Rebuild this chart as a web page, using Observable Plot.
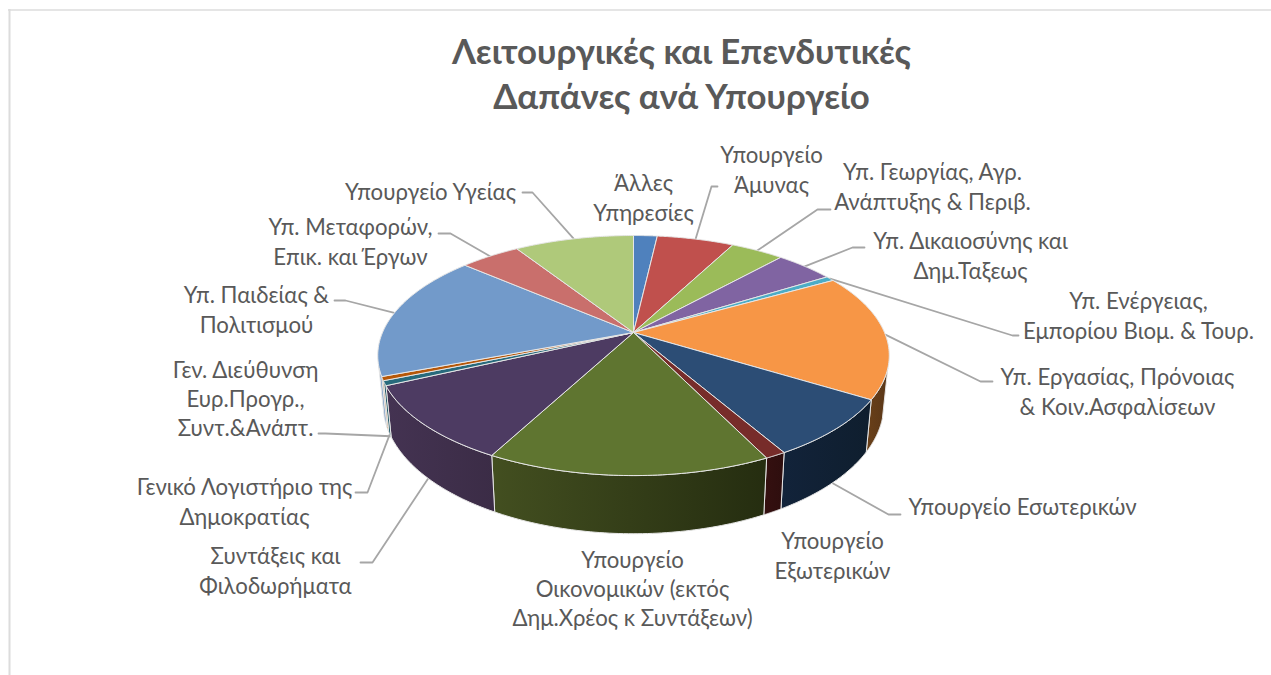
<!DOCTYPE html>
<html lang="el">
<head>
<meta charset="utf-8">
<script src="https://cdn.jsdelivr.net/npm/d3@7"></script>
<script src="https://cdn.jsdelivr.net/npm/@observablehq/plot@0.6"></script>
<style>html,body{margin:0;padding:0;background:#fff}svg{display:block}</style>
</head>
<body>
<div id="chart"></div>
<script>
const titleLines = "Λειτουργικές και Επενδυτικές\nΔαπάνες ανά Υπουργείο";
const categories = [
  "Άλλες\nΥπηρεσίες","Υπουργείο\nΆμυνας","Υπ. Γεωργίας, Αγρ.\nΑνάπτυξης & Περιβ.",
  "Υπ. Δικαιοσύνης και\nΔημ.Ταξεως","Υπ. Ενέργειας,\nΕμπορίου Βιομ. & Τουρ.",
  "Υπ. Εργασίας, Πρόνοιας\n& Κοιν.Ασφαλίσεων","Υπουργείο Εσωτερικών","Υπουργείο\nΕξωτερικών",
  "Υπουργείο\nΟικονομικών (εκτός\nΔημ.Χρέος κ Συντάξεων)","Συντάξεις και\nΦιλοδωρήματα",
  "Γενικό Λογιστήριο της\nΔημοκρατίας","Γεν. Διεύθυνση\nΕυρ.Προγρ.,\nΣυντ.&Ανάπτ.",
  "Υπ. Παιδείας &\nΠολιτισμού","Υπ. Μεταφορών,\nΕπικ. και Έργων","Υπουργείο Υγείας"
];
const shares = [1.8,5.86,4.03,4.44,0.67,16.97,7.89,1.11,15.0,10.28,0.64,0.53,17.14,4.56,9.08];
const topColors = ["#4f81bd","#c0504d","#9bbb59","#8064a2","#4bacc6","#f79646","#2c4d75","#772c2a","#5f7530","#4d3b62","#276a7c","#b65708","#729aca","#c96f6c","#afc97a"];
const wallLeft  = ["#333","#333","#333","#333","#333","#6a4019","#12233a","#351010","#434f20","#443352","#1c5664","#c08a50","#7f9fc8","#333","#333"];
const wallRight = ["#333","#333","#333","#333","#333","#5a3718","#0f1e2e","#2e0e0e","#252d10","#3b2c46","#1c5664","#c08a50","#7f9fc8","#333","#333"];

// Pie projection (layout, not data)
const pie = {cx:633, cy:332, a:115.6, b:251, k:0.192, depth:47, shrink:0.979, wallFrom:107, wallTo:254};
const project = (deg, lift = 0) => {
  const t = deg * Math.PI / 180, u = Math.sin(t), v = -Math.cos(t), den = 1 - pie.k * v;
  return {x: pie.cx + pie.b * u / den * (1 - lift * (1 - pie.shrink)), y: pie.cy + pie.a * v / den + lift * pie.depth / den};
};
const total = d3.sum(shares);
const ends = d3.cumsum(shares).map(c => c / total * 360);
const spans = shares.map((_, i) => [i ? ends[i - 1] : 0, ends[i]]);
const arc = (from, to, lift = 0) => d3.range(0, 61).map(i => project(from + (to - from) * i / 60, lift));

// Label placement (block centres) and leader elbows
const labelX = [643,771,932,970,1138,1117,1022,832,632,275,244,245,256,350,430];
const labelY = [196,168,185,254,314,390,505.5,554,587,569,500,397,308,240,190];
const elbows = [null,[[711,186],[717,186]],[[817,209],[830,209]],[[852,247],[864,247]],[[1012,335],[1018,335]],
  [[980,381],[992,381]],[[888,514],[900,514]],null,null,[[372,562],[360,562]],[[367,492],[355,492]],[[325,433],[318,433]],
  [[345,300],[334,300]],[[450,233],[438,233]],[[532,192],[522,192]]];
const leaderAngleShift = {11: -3};

const walls = spans.map(([s, e], i) => {
  const from = Math.max(s, pie.wallFrom), to = Math.min(e, pie.wallTo);
  if (to <= from) return null;
  return {i, pts: [...arc(from, to), ...arc(to, from, 1)]};
}).filter(Boolean);
const apex = {x: pie.cx, y: pie.cy};
const tops = spans.map(([s, e], i) => ({i, pts: [apex, ...arc(s, e), apex]}));
const leaders = elbows.map((el, i) => {
  if (!el) return null;
  const mid = (spans[i][0] + spans[i][1]) / 2;
  const front = mid > pie.wallFrom && mid < pie.wallTo || i === 11;
  return [project(mid + (leaderAngleShift[i] || 0), front ? 1 : 0), ...el.map(([x, y]) => ({x, y}))];
}).filter(Boolean);
const labels = categories.map((text, i) => ({text, x: labelX[i], y: labelY[i]}));
const font = 'Lato, "Noto Sans", sans-serif';

const chart = Plot.plot({
  width: 1271, height: 675, margin: 0,
  x: {domain: [0, 1271], range: [0, 1271], axis: null},
  y: {domain: [0, 675], range: [0, 675], axis: null},
  style: {background: "#fff", fontFamily: font},
  marks: [
    Plot.ruleY([9.5], {x1: 8, x2: 1271, stroke: "#dcdcdc", strokeWidth: 1.5}),
    Plot.ruleX([9], {y1: 9, y2: 675, stroke: "#dcdcdc", strokeWidth: 2}),
    ...leaders.map(pts => Plot.line(pts, {x: "x", y: "y", stroke: "#a6a6a6", strokeWidth: 1.8})),
    ...walls.map(w => Plot.line(w.pts.concat(w.pts[0]), {x: "x", y: "y", fill: `url(#wall${w.i})`, stroke: "#e6e6e6", strokeWidth: 1})),
    ...tops.map(t => Plot.line(t.pts, {x: "x", y: "y", fill: topColors[t.i], stroke: "#e6e6e6", strokeWidth: 1})),
    Plot.text(labels, {x: "x", y: "y", text: "text", fill: "#595959", fontSize: 22.2, lineHeight: 1.325, textAnchor: "middle", lineAnchor: "middle"}),
    Plot.text([titleLines], {x: () => 681, y: () => 72, text: d => d, fill: "#595959", fontSize: 34.8, fontWeight: 700, lineHeight: 1.29, textAnchor: "middle", lineAnchor: "middle"})
  ]
});
const defs = d3.select(chart).insert("defs", ":first-child");
walls.forEach(w => {
  const g = defs.append("linearGradient").attr("id", `wall${w.i}`);
  g.append("stop").attr("offset", 0).attr("stop-color", wallLeft[w.i]);
  g.append("stop").attr("offset", 1).attr("stop-color", wallRight[w.i]);
});
document.getElementById("chart").append(chart);
</script>
</body>
</html>
